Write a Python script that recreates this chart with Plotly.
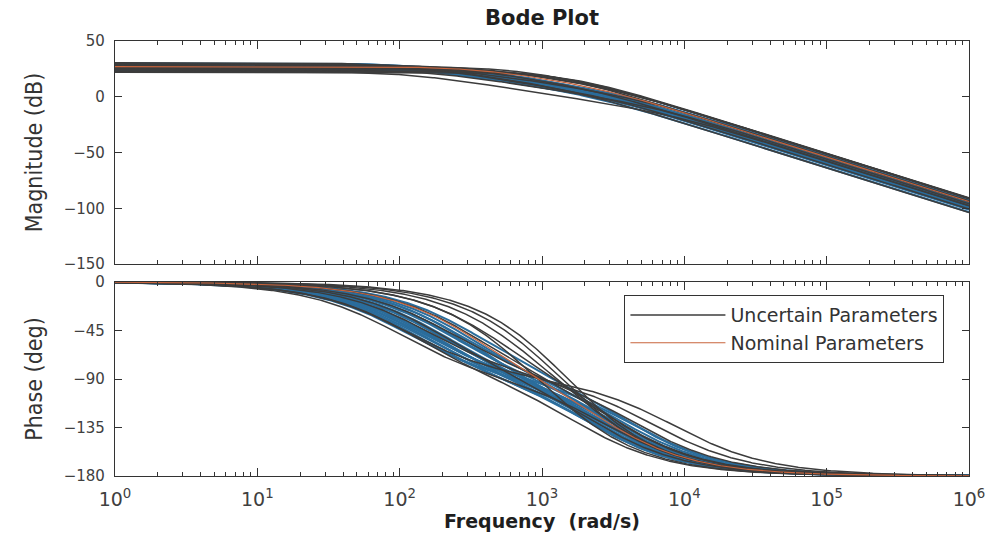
import numpy as np
import plotly.graph_objects as go

# Frequency grid (rad/s)
omega = np.logspace(0, 6, 600)

# Second-order plant G(s) = K / ((s/p1 + 1)(s/p2 + 1))
# Uncertain parameter samples: DC gain (dB), first pole, second pole (rad/s)
uncertain_dc_db = [22.5, 24.0, 30.5, 26.0, 28.0, 25.5, 24.5, 23.0, 22.0, 29.0, 27.0, 29.5]
uncertain_p1 = [110, 160, 95, 230, 330, 480, 700, 1000, 1400, 200, 600, 120]
uncertain_p2 = [8800, 6300, 2900, 4700, 3400, 3100, 2300, 1900, 1650, 2350, 1450, 1800]

# Additional Monte-Carlo samples of the plant
sample_dc_db = [27.5, 28.0, 26.5, 29.0, 25.5, 27.0, 28.5, 26.0, 24.5,
                27.5, 29.5, 25.0, 26.5, 28.0, 30.0, 24.0, 26.0, 27.0]
sample_p1 = [120, 140, 160, 130, 180, 200, 170, 220, 260,
             240, 150, 300, 190, 110, 125, 350, 140, 280]
sample_p2 = [2350, 2500, 2700, 3000, 3150, 2800, 2150, 3400, 3800,
             2600, 3250, 3000, 2450, 3600, 2250, 4100, 4500, 2100]

# Nominal plant
nominal_dc_db = 27.0
nominal_p1 = 330
nominal_p2 = 2700

mag_ticks = [50, 0, -50, -100, -150]
phase_ticks = [0, -45, -90, -135, -180]
freq_ticks = [1, 10, 100, 1e3, 1e4, 1e5, 1e6]
freq_labels = ["10<sup>%d</sup>" % k for k in range(7)]


def response(dc_db, p1, p2):
    s = 1j * omega
    h = 10 ** (dc_db / 20) / ((s / p1 + 1) * (s / p2 + 1))
    mag = 20 * np.log10(np.abs(h))
    phase = np.degrees(np.unwrap(np.angle(h)))
    return mag, phase


BLUE = "#2b6d9c"
GRAY = "#3c3c3c"
ORANGE = "#c8643c"

fig = go.Figure()


def add_curve(dc_db, p1, p2, color, width, name=None, show=False):
    mag, phase = response(dc_db, p1, p2)
    fig.add_trace(go.Scatter(x=omega, y=mag, mode="lines", xaxis="x2", yaxis="y2",
                             line=dict(color=color, width=width),
                             legendgroup=name, showlegend=False, hoverinfo="skip"))
    fig.add_trace(go.Scatter(x=omega, y=phase, mode="lines", xaxis="x", yaxis="y",
                             line=dict(color=color, width=width), name=name,
                             legendgroup=name, showlegend=show, hoverinfo="skip"))


for d, a, b in zip(sample_dc_db, sample_p1, sample_p2):
    add_curve(d, a, b, BLUE, 2.0)
for i, (d, a, b) in enumerate(zip(uncertain_dc_db, uncertain_p1, uncertain_p2)):
    add_curve(d, a, b, GRAY, 1.5, "Uncertain Parameters", show=(i == 0))
add_curve(nominal_dc_db, nominal_p1, nominal_p2, ORANGE, 1.1, "Nominal Parameters", show=True)

TEXT = "#404040"
AX = "#333333"
tick_font = dict(family="DejaVu Sans, Arial, sans-serif", size=15, color=TEXT)
title_font = dict(family="Liberation Sans Narrow, DejaVu Sans Condensed, Arial Narrow, Arial, sans-serif",
                  size=23, color="#333333")

common_x = dict(type="log", range=[0, 6], showgrid=False, zeroline=False,
                showline=True, linecolor=AX, linewidth=1.2, mirror="ticks",
                ticks="inside", ticklen=8, tickcolor=AX,
                tickvals=freq_ticks,
                minor=dict(ticks="inside", ticklen=4, tickcolor=AX, dtick="D1", showgrid=False))
common_y = dict(showgrid=False, zeroline=False, showline=True, linecolor=AX, linewidth=1.2,
                mirror="ticks", ticks="inside", ticklen=7, tickcolor=AX, tickfont=tick_font,
                ticklabelstandoff=6)

fig.update_layout(
    width=997, height=539,
    margin=dict(l=115, r=20, t=41, b=63),
    paper_bgcolor="white", plot_bgcolor="white",
    title=dict(text="<b>Bode Plot</b>", x=0.5, xref="paper", xanchor="center",
               y=1 - 18 / 539, yref="container", yanchor="middle",
               font=dict(family="DejaVu Sans, Arial, sans-serif", size=21, color="#1e1e1e")),
    xaxis=dict(common_x, anchor="y", domain=[0, 1], ticktext=freq_labels, ticklabelstandoff=6,
               tickfont=dict(family="DejaVu Sans, Arial, sans-serif", size=19, color=TEXT),
               title=dict(text="<b>Frequency  (rad/s)</b>", standoff=4,
                          font=dict(family="DejaVu Sans, Arial, sans-serif", size=19, color="#1e1e1e"))),
    xaxis2=dict(common_x, anchor="y2", domain=[0, 1], matches="x", showticklabels=False),
    yaxis=dict(common_y, domain=[0, 194 / 435], range=[-180, 0], tickvals=phase_ticks,
               title=dict(text="Phase (deg)", standoff=14, font=title_font)),
    yaxis2=dict(common_y, domain=[212 / 435, 1], range=[-150, 50], tickvals=mag_ticks,
                title=dict(text="Magnitude (dB)", standoff=14, font=title_font)),
    legend=dict(x=(952 - 115) / 862, xanchor="right", y=(476 - 295) / 435, yanchor="top",
                bgcolor="white", bordercolor="#333333", borderwidth=1.2,
                font=dict(family="DejaVu Sans, Arial, sans-serif", size=19, color="#333333"),
                itemwidth=95, tracegroupgap=0),
    showlegend=True,
)

fig.write_html("out.html")
